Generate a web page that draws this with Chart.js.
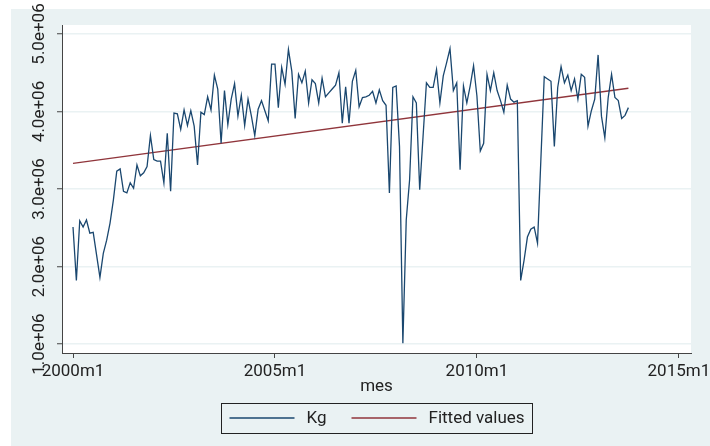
<!DOCTYPE html>
<html>
<head>
<meta charset="utf-8">
<script src="https://cdn.jsdelivr.net/npm/chart.js@4.4.0/dist/chart.umd.min.js"></script>
<style>
  html, body { margin: 0; padding: 0; background: #fff; }
  canvas { display: block; }
</style>
</head>
<body>
<canvas id="grafico" width="710" height="446"></canvas>
<script>
// Kg mensual desde 2000m1 (un valor por mes)
var kg = [
  2510000, 1820000, 2590000, 2510000, 2600000, 2430000, 2440000, 2150000, 1860000, 2170000, 2340000, 2560000,
  2860000, 3230000, 3260000, 2970000, 2950000, 3080000, 3010000, 3310000, 3170000, 3210000, 3290000, 3690000,
  3380000, 3360000, 3360000, 3080000, 3720000, 2970000, 3980000, 3970000, 3770000, 4020000, 3820000, 4010000,
  3810000, 3310000, 3990000, 3960000, 4190000, 4020000, 4470000, 4290000, 3590000, 4270000, 3830000, 4160000,
  4360000, 3940000, 4210000, 3820000, 4160000, 3940000, 3690000, 4030000, 4140000, 4010000, 3880000, 4610000,
  4610000, 4050000, 4570000, 4350000, 4800000, 4520000, 3910000, 4480000, 4370000, 4520000, 4110000, 4410000,
  4360000, 4110000, 4430000, 4190000, 4240000, 4290000, 4340000, 4500000, 3850000, 4320000, 3850000, 4390000,
  4530000, 4060000, 4180000, 4190000, 4210000, 4260000, 4110000, 4280000, 4140000, 4080000, 2950000, 4310000,
  4330000, 3550000, 1010000, 2600000, 3120000, 4190000, 4110000, 2990000, 3680000, 4370000, 4310000, 4310000,
  4540000, 4110000, 4460000, 4630000, 4810000, 4270000, 4370000, 3250000, 4330000, 4110000, 4330000, 4590000,
  4200000, 3490000, 3590000, 4480000, 4270000, 4500000, 4270000, 4140000, 3990000, 4340000, 4160000, 4120000,
  4140000, 1820000, 2080000, 2380000, 2480000, 2510000, 2300000, 3380000, 4450000, 4420000, 4390000, 3550000,
  4310000, 4580000, 4370000, 4470000, 4270000, 4420000, 4160000, 4480000, 4440000, 3810000, 4010000, 4160000,
  4730000, 3940000, 3660000, 4180000, 4480000, 4180000, 4140000, 3910000, 3950000, 4050000
];

// recta ajustada: extremos (mes 0 = 2000m1, mes 165 = 2013m10)
var fittedMes = [0, 165];
var fittedKg = [3330000, 4300000];

var xTicks = [0, 60, 120, 180];
var xTickLabels = ["2000m1", "2005m1", "2010m1", "2015m1"];
var yTicks = [1000000, 2000000, 3000000, 4000000, 5000000];
var yTickLabels = ["1.0e+06", "2.0e+06", "3.0e+06", "4.0e+06", "5.0e+06"];

var fuente = "17px Roboto";
var colorTexto = "#222";
var colorEje = "#444";

var puntosKg = kg.map(function (v, i) { return { x: i, y: v }; });
var puntosFit = fittedMes.map(function (m, i) { return { x: m, y: fittedKg[i] }; });

// Fondo, etiquetas giradas, titulo del eje y leyenda estilo Stata
var marcoStata = {
  id: "marcoStata",
  beforeDraw: function (chart) {
    var ctx = chart.ctx, a = chart.chartArea;
    ctx.save();
    ctx.fillStyle = "#fff";
    ctx.fillRect(0, 0, chart.width, chart.height);
    ctx.fillStyle = "#eaf2f3";
    ctx.fillRect(11, 9, chart.width - 11, chart.height - 9);
    ctx.fillStyle = "#fff";
    ctx.fillRect(a.left, a.top, a.right - a.left, a.bottom - a.top);
    ctx.restore();
  },
  afterDraw: function (chart) {
    var ctx = chart.ctx, a = chart.chartArea;
    var sx = chart.scales.x, sy = chart.scales.y;
    ctx.save();
    ctx.font = fuente;
    ctx.fillStyle = colorTexto;

    // etiquetas eje y (verticales)
    yTicks.forEach(function (v, i) {
      ctx.save();
      ctx.translate(44, sy.getPixelForValue(v));
      ctx.rotate(-Math.PI / 2);
      ctx.textAlign = "center";
      ctx.textBaseline = "alphabetic";
      ctx.fillText(yTickLabels[i], 0, 0);
      ctx.restore();
    });

    // etiquetas eje x
    ctx.textAlign = "center";
    ctx.textBaseline = "alphabetic";
    xTicks.forEach(function (v, i) {
      ctx.fillText(xTickLabels[i], sx.getPixelForValue(v), 376);
    });

    // titulo eje x
    var cx = (a.left + a.right) / 2;
    ctx.fillText("mes", cx, 391);

    // leyenda
    var muestra = 65, hueco = 12, entre = 25, margen = 8;
    var items = chart.data.datasets.map(function (ds) {
      return { texto: ds.label, color: ds.borderColor, w: ctx.measureText(ds.label).width };
    });
    var total = margen * 2;
    items.forEach(function (it, i) {
      total += muestra + hueco + it.w + (i > 0 ? entre : 0);
    });
    var x0 = Math.round(cx - total / 2) + 0.5;
    var top = 403.5, alto = 30;
    ctx.strokeStyle = "#222";
    ctx.lineWidth = 1;
    ctx.strokeRect(x0, top, Math.round(total), alto);
    var x = x0 + margen, ly = top + 14.5;
    ctx.textAlign = "left";
    items.forEach(function (it) {
      ctx.strokeStyle = it.color;
      ctx.lineWidth = 1.4;
      ctx.beginPath();
      ctx.moveTo(x, ly);
      ctx.lineTo(x + muestra, ly);
      ctx.stroke();
      x += muestra + hueco;
      ctx.fillText(it.texto, x, 423);
      x += it.w + entre;
    });
    ctx.restore();
  }
};

new Chart(document.getElementById("grafico").getContext("2d"), {
  type: "line",
  data: {
    datasets: [{
      label: "Kg",
      data: puntosKg,
      borderColor: "#1a476f",
      borderWidth: 1.3,
      pointRadius: 0,
      tension: 0,
      fill: false
    }, {
      label: "Fitted values",
      data: puntosFit,
      borderColor: "#90353b",
      borderWidth: 1.3,
      pointRadius: 0,
      tension: 0,
      fill: false
    }]
  },
  options: {
    responsive: false,
    animation: false,
    layout: { padding: { left: 57, right: 19, top: 25, bottom: 88 } },
    plugins: {
      legend: { display: false },
      tooltip: { enabled: false }
    },
    scales: {
      x: {
        type: "linear",
        min: -3.27,
        max: 183.6,
        afterBuildTicks: function (scale) {
          scale.ticks = xTicks.map(function (v) { return { value: v }; });
        },
        ticks: { display: false },
        grid: {
          drawOnChartArea: false,
          drawTicks: true,
          tickLength: 5,
          tickColor: colorEje,
          tickWidth: 1
        },
        border: { display: true, color: colorEje, width: 1 }
      },
      y: {
        type: "linear",
        min: 884000,
        max: 5116000,
        afterBuildTicks: function (scale) {
          scale.ticks = yTicks.map(function (v) { return { value: v }; });
        },
        ticks: { display: false },
        grid: {
          color: "#eaf2f3",
          lineWidth: 1.5,
          drawTicks: true,
          tickLength: 5,
          tickColor: colorEje,
          tickWidth: 1
        },
        border: { display: true, color: colorEje, width: 1 }
      }
    }
  },
  plugins: [marcoStata]
});
</script>
</body>
</html>
